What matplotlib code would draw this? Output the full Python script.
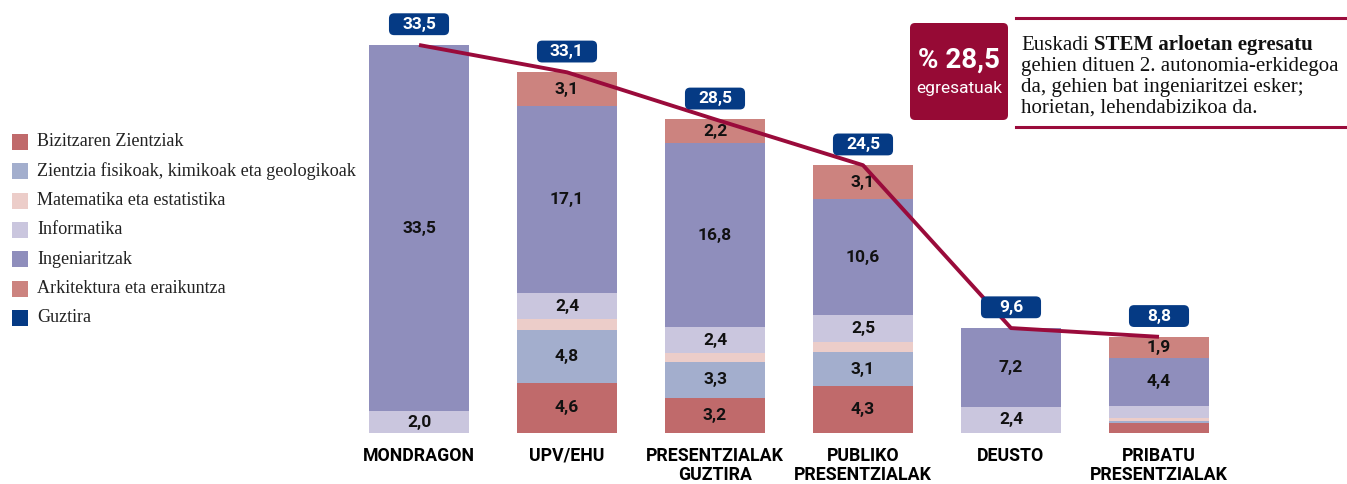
import numpy as np
import matplotlib.pyplot as plt
from matplotlib.patches import FancyBboxPatch, Rectangle

# datuak
unibertsitateak = ["MONDRAGON", "UPV/EHU", "PRESENTZIALAK\nGUZTIRA",
                   "PUBLIKO\nPRESENTZIALAK", "DEUSTO", "PRIBATU\nPRESENTZIALAK"]
arloak = ["Bizitzaren Zientziak", "Zientzia fisikoak, kimikoak eta geologikoak",
          "Matematika eta estatistika", "Informatika", "Ingeniaritzak",
          "Arkitektura eta eraikuntza", "Guztira"]
bizitzaren    = [0.0, 4.6, 3.2, 4.3, 0.0, 0.9]
fisikoak      = [0.0, 4.8, 3.3, 3.1, 0.0, 0.2]
matematika    = [0.0, 1.0, 0.8, 0.9, 0.0, 0.3]
informatika   = [2.0, 2.4, 2.4, 2.5, 2.4, 1.1]
ingeniaritzak = [33.5, 17.1, 16.8, 10.6, 7.2, 4.4]
arkitektura   = [0.0, 3.1, 2.2, 3.1, 0.0, 1.9]
guztira       = [33.5, 33.1, 28.5, 24.5, 9.6, 8.8]

koloreak = ["#c06a6b", "#a3aecd", "#eccdc9", "#cac6de", "#8f8ebc", "#cc837f", "#053a84"]
gorria = "#9a0b3b"
urdina = "#053a84"
letra_z = ["Roboto", "DejaVu Sans"]
letra_s = ["Liberation Serif", "DejaVu Serif"]

W, H = 1347, 484
fig = plt.figure(figsize=(W / 100, H / 100), dpi=100)
ax = fig.add_axes([0, 51 / H, 1, 433 / H])
ax.set_facecolor("none")
x = np.arange(len(unibertsitateak))
ax.set_xlim(-419 / 148, (W - 419) / 148)
ax.set_ylim(0, 433 / 10.93)

serieak = [bizitzaren, fisikoak, matematika, informatika, ingeniaritzak, arkitektura]
behea = np.zeros(len(x))
for balioak, kolorea in zip(serieak, koloreak):
    balioak = np.array(balioak, dtype=float)
    ax.bar(x, balioak, 0.67, bottom=behea, color=kolorea, linewidth=0, zorder=2)
    for xi, b, v in zip(x, behea, balioak):
        if v >= 1.5:
            ax.text(xi, b + v / 2, f"{v:.1f}".replace(".", ","), ha="center", va="center",
                    fontsize=12.5, fontweight="bold", family=letra_z, color="#111111", zorder=3)
    behea += balioak

# guztira lerroa
ax.plot(x, behea, color=gorria, lw=2.8, zorder=4, solid_capstyle="butt")
for xi, goia, g in zip(x, behea, guztira):
    ax.add_patch(FancyBboxPatch((xi - 0.203, goia + 0.9), 0.406, 2.0,
                                boxstyle="round,pad=0,rounding_size=0.035",
                                mutation_aspect=13.5, fc=urdina, ec="none", zorder=6))
    ax.text(xi, goia + 1.9, f"{g:.1f}".replace(".", ","), ha="center", va="center",
            color="white", fontsize=12.5, fontweight="bold", family=letra_z, zorder=7)

ax.set_xticks(x, unibertsitateak)
for t in ax.get_xticklabels():
    t.set_fontsize(12.8)
    t.set_fontweight("bold")
    t.set_family(letra_z)
    t.set_linespacing(1.1)
ax.tick_params(axis="x", length=0, pad=10)
ax.set_yticks([])
for s in ax.spines.values():
    s.set_visible(False)

# pixel koordenatuetako geruza
ov = fig.add_axes([0, 0, 1, 1])
ov.set_xlim(0, W)
ov.set_ylim(H, 0)
ov.axis("off")

# legenda
for i, (izena, kolorea) in enumerate(zip(arloak, koloreak)):
    yc = 142 + i * 29.3
    ov.add_patch(Rectangle((12, yc - 8), 16, 16, fc=kolorea, ec="none"))
    ov.text(37, yc, izena, ha="left", va="center", fontsize=13.1, family=letra_s, color="#222222")

# oharra
ov.add_patch(FancyBboxPatch((910, 23), 98, 97, boxstyle="round,pad=0,rounding_size=5",
                            fc="#960a35", ec="none"))
ov.text(959, 60, "% 28,5", ha="center", va="center", color="white", fontsize=20,
        fontweight="bold", family=letra_z)
ov.text(959, 89, "egresatuak", ha="center", va="center", color="white", fontsize=12.5,
        family=letra_z)
ov.plot([1016, W], [18, 18], color=gorria, lw=2.2)
ov.plot([1016, W], [127, 127], color=gorria, lw=2.2)

t1 = ov.text(1021, 50, "Euskadi", ha="left", va="baseline", fontsize=15, family=letra_s,
             color="#111111")
fig.canvas.draw()
bb = t1.get_window_extent()
ov.text(bb.x1 + 5, 50, "STEM arloetan egresatu", ha="left", va="baseline", fontsize=15,
        fontweight="bold", family=letra_s, color="#111111")
lerroak = ["gehien dituen 2. autonomia-erkidegoa", "da, gehien bat ingeniaritzei esker;",
           "horietan, lehendabizikoa da."]
for j, l in enumerate(lerroak):
    ov.text(1021, 71 + j * 20.7, l, ha="left", va="baseline", fontsize=15, family=letra_s,
            color="#111111")

fig.savefig("out.png", dpi=100, facecolor="white")
